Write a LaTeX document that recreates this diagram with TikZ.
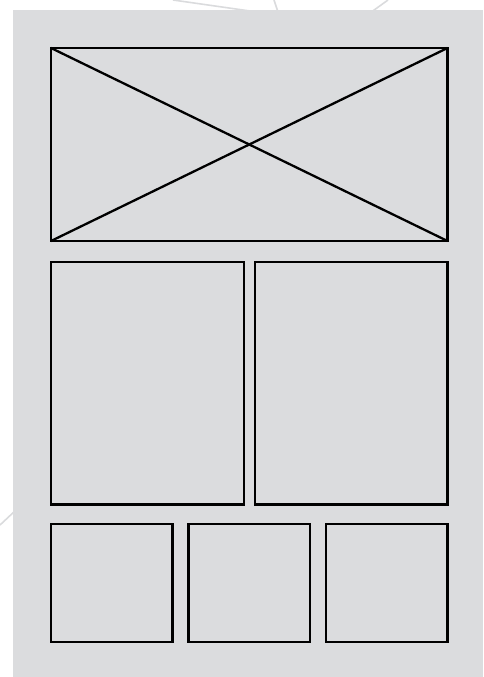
\documentclass[tikz,border=0pt]{standalone}
\usepackage{tikz}
\usetikzlibrary{positioning}
\definecolor{panelgray}{RGB}{219,220,222}
\definecolor{ghostline}{RGB}{218,219,221}

\begin{document}
\begin{tikzpicture}[x=1pt, y=-1pt,
          box/.style={draw, line width=2.3pt, inner sep=0pt, outer sep=0pt, anchor=north west},
          wide/.style={box, minimum width=396.5pt, minimum height=193pt},
          half/.style={box, minimum width=192.75pt, minimum height=242.5pt},
          third/.style={box, minimum width=121.5pt, minimum height=118pt},
          ghost/.style={ghostline, line width=1.6pt}]
        \useasboundingbox (0,0) rectangle (483,677);
        % faint lines behind the sheet
        \draw[ghost] (173,0) -- (250,11);
        \draw[ghost] (274,0) -- (278,12);
        \draw[ghost] (388,0) -- (370,13);
        \draw[ghost] (0,525) -- (16,510);
        \fill[panelgray] (13,10) rectangle (483,677);
        % frames
        \node[wide]  (banner) at (51,48) {};
        \node[half]  (colL)   at (51,262) {};
        \node[half]  (colR)   at (254.75,262) {};
        \node[third] (cellA)  at (51,524) {};
        \node[third] (cellB)  at (188.5,524) {};
        \node[third] (cellC)  at (326,524) {};
        \draw[line width=2.3pt] (banner.north west) -- (banner.south east);
        \draw[line width=2.3pt] (banner.south west) -- (banner.north east);
      \end{tikzpicture}
\end{document}
